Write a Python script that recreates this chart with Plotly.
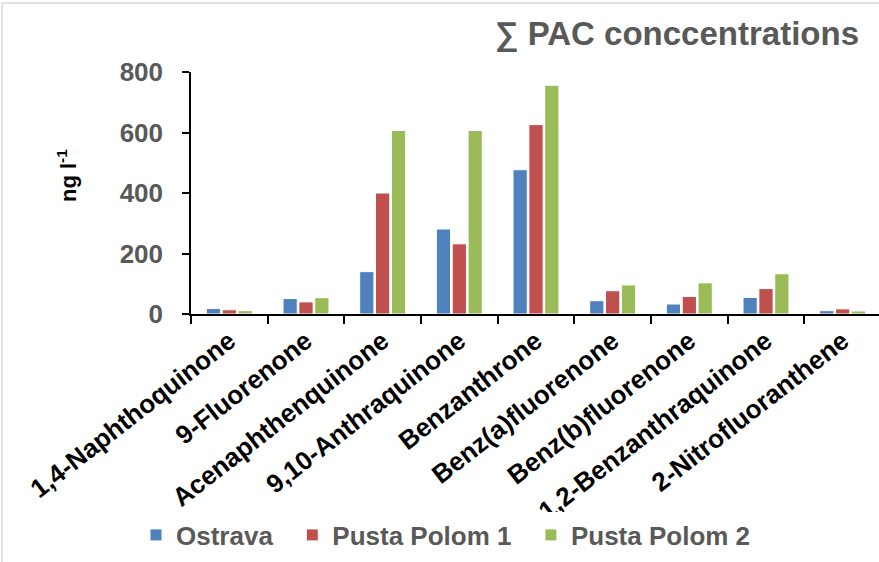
import plotly.graph_objects as go

# PAC concentrations (ng/l) at three sampling sites
compounds = [
    "1,4-Naphthoquinone", "9-Fluorenone", "Acenaphthenquinone",
    "9,10-Anthraquinone", "Benzanthrone", "Benz(a)fluorenone",
    "Benz(b)fluorenone", "1,2-Benzanthraquinone", "2-Nitrofluoranthene",
]
ostrava = [18, 51, 140, 281, 477, 44, 33, 55, 11]
pusta_polom_1 = [14, 40, 400, 232, 626, 77, 58, 84, 17]
pusta_polom_2 = [11, 54, 607, 607, 756, 96, 103, 133, 10]
y_ticks = [0, 200, 400, 600, 800]

# legend labels padded with no-break spaces to widen the gaps between entries
PAD = "\u00a0" * 2
series = [
    ("Ostrava" + PAD, ostrava, "#4F81BD"),
    ("Pusta Polom 1" + PAD, pusta_polom_1, "#C0504D"),
    ("Pusta Polom 2", pusta_polom_2, "#9BBB59"),
]

FONT = "Liberation Sans, Arial, sans-serif"
GRAY = "#595959"

W, H = 879, 562
ML, MT = 191, 72
PLOT_W = W - ML
PLOT_H = 242
MB = H - MT - PLOT_H


def px_x(px):
    return (px - ML) / PLOT_W


def px_y(py):
    return (MT + PLOT_H - py) / PLOT_H


fig = go.Figure()
for name, vals, color in series:
    fig.add_trace(go.Bar(
        x=compounds, y=vals, name=name,
        marker=dict(color=color, line=dict(color="white", width=1)),
    ))

fig.update_layout(
    width=W, height=H,
    margin=dict(l=ML, r=0, t=MT, b=MB),
    paper_bgcolor="white", plot_bgcolor="white",
    barmode="group", bargap=0.38, bargroupgap=0.1,
    font=dict(family=FONT),
    showlegend=True,
    legend=dict(
        orientation="h", x=px_x(446), y=px_y(535),
        xanchor="center", yanchor="middle",
        font=dict(size=26, color=GRAY, weight="bold"),
        itemwidth=30, traceorder="normal",
    ),
    xaxis=dict(
        type="category", range=[-0.5, 8.474],
        showline=True, linecolor="black", linewidth=1.5,
        ticks="outside", tickson="boundaries", ticklen=8,
        tickcolor="black", tickwidth=1.5,
        tickangle=-38,
        tickfont=dict(size=26, color="black", weight="bold"),
        showgrid=False, zeroline=False,
    ),
    yaxis=dict(
        range=[0, 800], tickvals=y_ticks,
        showline=True, linecolor="black", linewidth=1.5,
        ticks="outside", ticklen=7, tickcolor="black", tickwidth=1.5,
        ticklabelstandoff=14,
        tickfont=dict(size=26, color=GRAY, weight="bold"),
        showgrid=False, zeroline=False,
    ),
    annotations=[
        dict(
            text="∑ PAC conccentrations", xref="paper", yref="paper",
            x=px_x(861), y=px_y(34), xanchor="right", yanchor="middle",
            showarrow=False,
            font=dict(size=33, color=GRAY, weight="bold", family=FONT),
        ),
        dict(
            text="ng l<sup>-1</sup>", xref="paper", yref="paper",
            x=px_x(67), y=px_y(176), xanchor="center", yanchor="middle",
            textangle=-90, showarrow=False,
            font=dict(size=22, color="black", weight="bold", family=FONT),
        ),
    ],
    shapes=[
        dict(type="line", xref="paper", yref="paper",
             x0=px_x(2), x1=px_x(2), y0=px_y(3), y1=px_y(H),
             line=dict(color="#D9D9D9", width=1.5)),
        dict(type="line", xref="paper", yref="paper",
             x0=px_x(2), x1=px_x(W), y0=px_y(3), y1=px_y(3),
             line=dict(color="#D9D9D9", width=1.5)),
    ],
)

fig.write_html("out.html")
